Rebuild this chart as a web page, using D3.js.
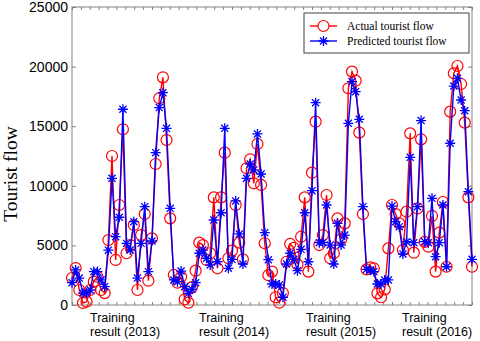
<!DOCTYPE html>
<html>
<head>
<meta charset="utf-8">
<script src="https://cdn.jsdelivr.net/npm/d3@7"></script>
<style>
  body { margin: 0; background: #fff; }
  svg { display: block; }
</style>
</head>
<body>
<div id="chart"></div>
<script>
// actual and predicted tourist flow
var actualFlow = [
  2265, 3100, 1260, 170, 280, 1260, 1960, 2375, 1260, 1000,
  5450, 12500, 3780, 8390, 14740, 4340, 5030, 6710, 1260, 5870,
  7635, 2040, 5590, 11830, 17340, 19100, 13840, 7270, 2520, 1870,
  2375, 480, 195, 1500, 2880, 5230, 5030, 3780, 4340, 9030,
  3080, 9030, 12780, 3920, 4560, 8390, 5230, 3830, 11470, 12220,
  10210, 13510, 10070, 5180, 2500, 2800, 650, 195, 1000, 3630,
  5120, 4800, 3400, 5730, 9030, 2800, 11100, 15380, 5030, 5870,
  9230, 3920, 4340, 7270, 5510, 6850, 18180, 19580, 18820, 14460,
  7630, 2990, 3160, 3080, 980, 650, 1310, 4750, 8390, 7630,
  6850, 4610, 7830, 14400, 4390, 8100, 13900, 5300, 4890, 7470,
  2800, 6070, 8640, 3210, 16220, 19440, 20050, 18540, 15300, 9030,
  3210
];
var predictedFlow = [
  1870, 2940, 2260, 1000, 1000, 1260, 2800, 2800, 2100, 1540,
  4600, 10630, 5730, 7360, 16420, 5170, 4610, 6990, 2260, 5170,
  8250, 2800, 5370, 12780, 16560, 17810, 14820, 8110, 2100, 1960,
  2850, 1540, 980, 1320, 1870, 4340, 4610, 3920, 3360, 7130,
  3630, 7740, 14820, 3080, 3830, 8730, 5960, 3440, 10630, 11830,
  11330, 14350, 10990, 6070, 3800, 1760, 1760, 1680, 650, 3440,
  4340, 3830, 2880, 4670, 7740, 3630, 9590, 16970, 5230, 5230,
  8390, 5030, 3440, 6850, 5030, 5870, 15240, 18740, 17900, 15580,
  8250, 2990, 2930, 2800, 1760, 1760, 2100, 2100, 8300, 6990,
  6570, 4280, 5310, 12390, 5230, 8250, 15470, 5310, 5230, 8950,
  4050, 5230, 8390, 3210, 13570, 18370, 19020, 17200, 16300, 9510,
  3830
];
var yTicks = [0, 5000, 10000, 15000, 20000, 25000];
var periodLabels = ["Training result (2013)", "Training result (2014)",
                    "Training result (2015)", "Training result (2016)"];
var labelStart = [90, 199, 306, 402]; // left edge of each period label, px
var seriesNames = ["Actual tourist flow", "Predicted tourist flow"];

var width = 480, height = 341;
var margin = {top: 7, right: 8, bottom: 36, left: 72};
var plotW = width - margin.left - margin.right;
var plotH = height - margin.top - margin.bottom;

var svg = d3.select("#chart").append("svg")
    .attr("width", width)
    .attr("height", height);

var g = svg.append("g")
    .attr("transform", "translate(" + margin.left + "," + margin.top + ")");

var x = d3.scaleLinear().domain([0, actualFlow.length - 1]).range([0, plotW]);
var xTick = d3.scaleLinear().domain([0, 45]).range([0, plotW]);
var y = d3.scaleLinear().domain([0, 25000]).range([plotH, 0]);

var axisColor = "#808080";

// box and inward ticks
g.append("rect")
    .attr("width", plotW).attr("height", plotH)
    .attr("fill", "none").attr("stroke", axisColor).attr("stroke-width", 1);

function styleAxis(sel) {
    sel.select(".domain").remove();
    sel.selectAll(".tick line").attr("stroke", axisColor);
    sel.selectAll("text")
        .attr("fill", "#000")
        .style("font-family", "'Liberation Sans', Arial, sans-serif")
        .style("font-size", "14px");
}

g.append("g")
    .call(d3.axisLeft(y).tickValues(yTicks).tickSize(-4).tickPadding(4).tickFormat(d3.format("d")))
    .call(styleAxis);
g.append("g")
    .attr("transform", "translate(" + plotW + ",0)")
    .call(d3.axisRight(y).tickValues(yTicks).tickSize(-4).tickFormat(""))
    .call(styleAxis);
g.append("g")
    .attr("transform", "translate(0," + plotH + ")")
    .call(d3.axisBottom(xTick).tickValues(d3.range(0, 46)).tickSize(-3).tickFormat(""))
    .call(styleAxis);
g.append("g")
    .call(d3.axisTop(xTick).tickValues(d3.range(0, 46)).tickSize(-3).tickFormat(""))
    .call(styleAxis);

// period labels under the axis
var labels = svg.append("g").selectAll("text")
    .data(periodLabels)
    .enter().append("text")
    .attr("x", function(d, i) { return labelStart[i]; })
    .attr("y", 322)
    .style("font-family", "'Liberation Sans', Arial, sans-serif")
    .style("font-size", "12.5px")
    .attr("fill", "#000");
labels.append("tspan")
    .attr("x", function(d, i) { return labelStart[i]; })
    .text(function(d) { return d.split(" ")[0]; });
labels.append("tspan")
    .attr("x", function(d, i) { return labelStart[i]; })
    .attr("dy", 14)
    .text(function(d) { return d.split(" ").slice(1).join(" "); });

// y title
svg.append("text")
    .attr("transform", "translate(17,174) rotate(-90)")
    .attr("text-anchor", "middle")
    .style("font-family", "'Liberation Serif', 'Times New Roman', serif")
    .style("font-size", "19.5px")
    .text("Tourist flow");

var line = d3.line()
    .x(function(d, i) { return x(i); })
    .y(function(d) { return y(d); });

function starPath(r) {
    var a = r * 0.707;
    return "M" + (-r) + ",0L" + r + ",0M0," + (-r) + "L0," + r +
           "M" + (-a) + "," + (-a) + "L" + a + "," + a +
           "M" + (-a) + "," + a + "L" + a + "," + (-a);
}

// actual
g.append("path").datum(actualFlow)
    .attr("d", line).attr("fill", "none")
    .attr("stroke", "#ff0000").attr("stroke-width", 1.4);
g.append("g").selectAll("circle")
    .data(actualFlow)
    .enter().append("circle")
    .attr("cx", function(d, i) { return x(i); })
    .attr("cy", function(d) { return y(d); })
    .attr("r", 5.5)
    .attr("fill", "none").attr("stroke", "#ff0000").attr("stroke-width", 1.2);

// predicted
g.append("path").datum(predictedFlow)
    .attr("d", line).attr("fill", "none")
    .attr("stroke", "#0000ff").attr("stroke-width", 1.4);
g.append("g").selectAll("path")
    .data(predictedFlow)
    .enter().append("path")
    .attr("transform", function(d, i) { return "translate(" + x(i) + "," + y(d) + ")"; })
    .attr("d", starPath(5))
    .attr("fill", "none").attr("stroke", "#0000ff").attr("stroke-width", 1.3);

// legend
var legend = svg.append("g").attr("transform", "translate(304,13)");
legend.append("rect")
    .attr("width", 165).attr("height", 40)
    .attr("fill", "#fff").attr("stroke", "#404040").attr("stroke-width", 1);
var legendColors = ["#ff0000", "#0000ff"];
seriesNames.forEach(function(name, i) {
    var ly = 13 + i * 15;
    legend.append("line")
        .attr("x1", 6).attr("x2", 33).attr("y1", ly).attr("y2", ly)
        .attr("stroke", legendColors[i]).attr("stroke-width", 1.4);
    if (i === 0) {
        legend.append("circle").attr("cx", 19.5).attr("cy", ly).attr("r", 5.5)
            .attr("fill", "#fff").attr("stroke", legendColors[i]).attr("stroke-width", 1.2);
    } else {
        legend.append("path").attr("transform", "translate(19.5," + ly + ")")
            .attr("d", starPath(5))
            .attr("fill", "none").attr("stroke", legendColors[i]).attr("stroke-width", 1.3);
    }
    legend.append("text")
        .attr("x", 43).attr("y", ly + 4)
        .style("font-family", "'Liberation Serif', 'Times New Roman', serif")
        .style("font-size", "11.5px")
        .text(name);
});
</script>
</body>
</html>
